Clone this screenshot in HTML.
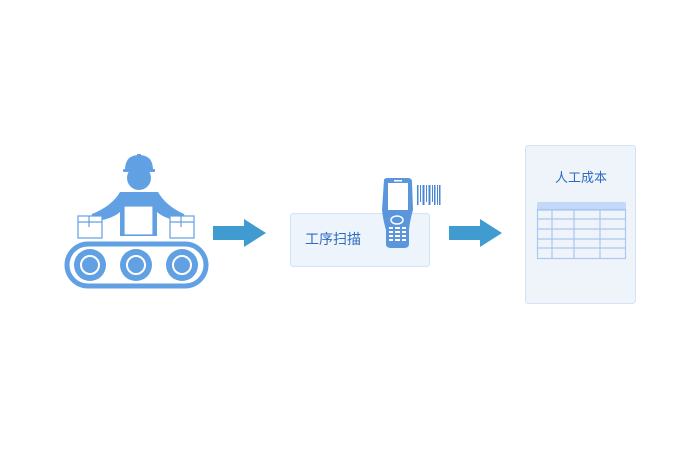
<!DOCTYPE html>
<html><head><meta charset="utf-8"><style>
html,body{margin:0;padding:0;background:#fff;}
svg{display:block;}
text{font-family:"Liberation Sans","Noto Sans CJK SC",sans-serif;}
</style></head><body>
<svg width="700" height="450" viewBox="0 0 700 450" xmlns="http://www.w3.org/2000/svg">
<!-- worker -->
<g fill="#62a0e4">
  <path d="M125 170 Q125 155 139 155 Q153 155 153 170 Z"/>
  <rect x="123" y="169" width="32" height="3" rx="1"/>
  <rect x="137" y="154" width="4" height="6"/>
  <circle cx="139" cy="178" r="12"/>
  <path d="M120 192 L158 192 Q166 206 184 214 L186 222 Q166 220 157 212 L157 236 L120 236 L120 212 Q111 220 90 222 L92 214 Q112 206 120 192 Z"/>
</g>
<g fill="#fff" stroke="#62a0e4" stroke-width="1.2">
  <rect x="124" y="206" width="29" height="29"/>
  <rect x="78" y="216" width="24" height="22"/>
  <rect x="170" y="216" width="24" height="22"/>
</g>
<g stroke="#62a0e4" stroke-width="1.2" fill="none">
  <line x1="127" y1="193" x2="127" y2="206"/><line x1="150" y1="193" x2="150" y2="206"/>
  <line x1="78" y1="222" x2="102" y2="222"/><line x1="89" y1="216" x2="89" y2="227"/>
  <line x1="170" y1="222" x2="194" y2="222"/><line x1="181" y1="216" x2="181" y2="227"/>
</g>
<!-- conveyor -->
<rect x="67" y="244" width="139" height="42" rx="21" fill="none" stroke="#62a0e4" stroke-width="5"/>
<g fill="#62a0e4"><circle cx="90" cy="265" r="16"/><circle cx="136" cy="265" r="16"/><circle cx="182" cy="265" r="16"/></g>
<g fill="none" stroke="#fff" stroke-width="2"><circle cx="90" cy="265" r="9"/><circle cx="136" cy="265" r="9"/><circle cx="182" cy="265" r="9"/></g>
<!-- arrows -->
<path d="M213 226 L244 226 L244 219 L266 233 L244 247 L244 240 L213 240 Z" fill="#3f9bd0"/>
<path d="M449 226 L480 226 L480 219 L502 233 L480 247 L480 240 L449 240 Z" fill="#3f9bd0"/>
<!-- scan box -->
<rect x="290.5" y="213.5" width="139" height="53" rx="3" fill="#eef4fb" stroke="#d3e3f4"/>
<text x="305" y="244" font-size="14" fill="#2d6cc0">工序扫描</text>
<!-- scanner -->
<path d="M384 180 Q384 178 388 178 L408 178 Q412 178 412 182 L413 210 Q410 220 409 230 L409 244 Q409 248 404 248 L391 248 Q386 248 386 244 L386 230 Q383 220 382 210 Z" fill="#5b96dd"/>
<rect x="388" y="183" width="20" height="27" fill="#fff"/>
<rect x="394" y="180" width="8" height="1.5" fill="#fff"/>
<ellipse cx="397" cy="220" rx="6" ry="4" fill="none" stroke="#fff" stroke-width="1.5"/>
<g fill="#fff">
<rect x="389" y="227" width="4" height="2"/><rect x="395" y="227" width="5" height="2"/><rect x="402" y="227" width="4" height="2"/>
<rect x="389" y="231" width="4" height="2"/><rect x="395" y="231" width="5" height="2"/><rect x="402" y="231" width="4" height="2"/>
<rect x="389" y="235" width="4" height="2"/><rect x="395" y="235" width="5" height="2"/><rect x="402" y="235" width="4" height="2"/>
<rect x="389" y="239" width="4" height="2"/><rect x="395" y="239" width="5" height="2"/><rect x="402" y="239" width="4" height="2"/>
</g>
<g fill="#4a86d6">
<rect x="417" y="185" width="1.5" height="20"/><rect x="420" y="185" width="1" height="17"/><rect x="422.5" y="185" width="2" height="20"/>
<rect x="426" y="185" width="1" height="17"/><rect x="428.5" y="185" width="2" height="20"/><rect x="432" y="185" width="1" height="17"/>
<rect x="434" y="185" width="1.5" height="20"/><rect x="437" y="185" width="1" height="20"/><rect x="439" y="185" width="1.5" height="20"/>
</g>
<!-- panel -->
<rect x="525.5" y="145.5" width="110" height="158" rx="3" fill="#eff4fa" stroke="#d3e3f4"/>
<text x="581" y="182" font-size="13" fill="#2d6cc0" text-anchor="middle">人工成本</text>
<rect x="537" y="202" width="89" height="9" rx="2" fill="#c4d9f7"/>
<g stroke="#a9c7ef" stroke-width="1.2" fill="none">
<rect x="537.5" y="209.5" width="88" height="49"/>
<line x1="537" y1="219" x2="626" y2="219"/><line x1="537" y1="229" x2="626" y2="229"/>
<line x1="537" y1="239" x2="626" y2="239"/><line x1="537" y1="248" x2="626" y2="248"/>
<line x1="552" y1="210" x2="552" y2="259"/><line x1="574" y1="210" x2="574" y2="259"/><line x1="600" y1="210" x2="600" y2="259"/>
</g>
</svg>
</body></html>
